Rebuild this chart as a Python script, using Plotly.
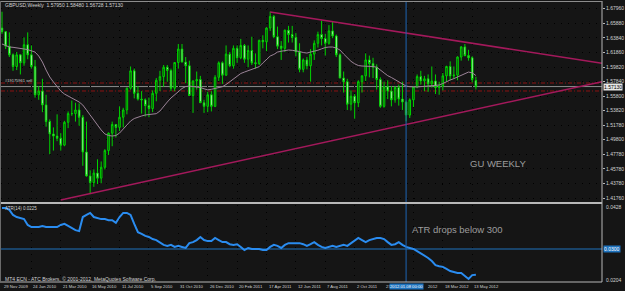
import pandas as pd
import plotly.graph_objects as go

# ---------------- data ----------------
weeks = pd.date_range("2009-11-29", periods=130, freq="7D")

opens = [1.6520, 1.6470, 1.6270, 1.6150, 1.5990, 1.6150, 1.6040, 1.6290, 1.6150, 1.5990,
         1.5600, 1.5650, 1.5460, 1.5230, 1.5060, 1.5030, 1.5000, 1.4905, 1.5220, 1.5340,
         1.5340, 1.5390, 1.5290, 1.4810, 1.4480, 1.4390, 1.4520, 1.4450, 1.4600, 1.4830,
         1.5070, 1.5190, 1.5150, 1.5290, 1.5390, 1.5690, 1.5930, 1.5620, 1.5540, 1.5530,
         1.5450, 1.5410, 1.5620, 1.5800, 1.5850, 1.5980, 1.5935, 1.5690, 1.6045, 1.6230,
         1.6050, 1.6000, 1.5590, 1.5790, 1.5810, 1.5490, 1.5440, 1.5600, 1.5440, 1.5840,
         1.6040, 1.5870, 1.6160, 1.6000, 1.6240, 1.6110, 1.6280, 1.6090, 1.6210, 1.6040,
         1.6030, 1.6350, 1.6330, 1.6520, 1.6680, 1.6400, 1.6270, 1.6240, 1.6490, 1.6430,
         1.6390, 1.6190, 1.5950, 1.6080, 1.6000, 1.6160, 1.6310, 1.6430, 1.6375, 1.6310,
         1.6480, 1.6410, 1.6150, 1.5830, 1.5780, 1.5470, 1.5580, 1.5490, 1.5780, 1.5860,
         1.6080, 1.6030, 1.5980, 1.5810, 1.5440, 1.5710, 1.5650, 1.5530, 1.5700, 1.5540,
         1.5500, 1.5320, 1.5530, 1.5710, 1.5850, 1.5790, 1.5820, 1.5750, 1.5790, 1.5700,
         1.5720, 1.5860, 1.5990, 1.5860, 1.5870, 1.6120, 1.6260, 1.6140, 1.6110, 1.5795]
highs = [1.6745, 1.6480, 1.6460, 1.6170, 1.6190, 1.6160, 1.6390, 1.6460, 1.6280, 1.6080,
         1.5720, 1.5820, 1.5600, 1.5260, 1.5150, 1.5330, 1.5070, 1.5240, 1.5370, 1.5520,
         1.5490, 1.5480, 1.5320, 1.5230, 1.4560, 1.4570, 1.4710, 1.4680, 1.4850, 1.5080,
         1.5230, 1.5190, 1.5440, 1.5420, 1.5700, 1.5990, 1.5960, 1.5720, 1.5650, 1.5550,
         1.5560, 1.5660, 1.5830, 1.5930, 1.6010, 1.6010, 1.5960, 1.6050, 1.6300, 1.6300,
         1.6120, 1.6070, 1.5800, 1.5920, 1.5860, 1.5530, 1.5640, 1.5650, 1.5870, 1.6060,
         1.6060, 1.6280, 1.6190, 1.6280, 1.6280, 1.6370, 1.6300, 1.6280, 1.6400, 1.6170,
         1.6360, 1.6420, 1.6530, 1.6747, 1.6700, 1.6540, 1.6340, 1.6500, 1.6550, 1.6550,
         1.6450, 1.6310, 1.6100, 1.6120, 1.6230, 1.6350, 1.6470, 1.6620, 1.6440, 1.6560,
         1.6610, 1.6430, 1.6170, 1.5920, 1.5820, 1.5660, 1.5610, 1.5800, 1.5870, 1.6170,
         1.6140, 1.6110, 1.6020, 1.5840, 1.5780, 1.5800, 1.5720, 1.5720, 1.5740, 1.5780,
         1.5520, 1.5550, 1.5720, 1.5880, 1.5930, 1.5860, 1.5880, 1.5990, 1.5880, 1.5780,
         1.5900, 1.6000, 1.6060, 1.5990, 1.6130, 1.6270, 1.6300, 1.6220, 1.6130, 1.5848]
lows = [1.6440, 1.6230, 1.6120, 1.5930, 1.5940, 1.5880, 1.6000, 1.6090, 1.5960, 1.5560,
        1.5530, 1.5360, 1.5160, 1.4780, 1.4830, 1.4960, 1.4830, 1.4890, 1.5140, 1.5310,
        1.5230, 1.5170, 1.4620, 1.4470, 1.4230, 1.4330, 1.4370, 1.4380, 1.4570, 1.4770,
        1.4890, 1.5010, 1.5100, 1.5150, 1.5330, 1.5670, 1.5550, 1.5520, 1.5340, 1.5300,
        1.5290, 1.5360, 1.5510, 1.5650, 1.5710, 1.5780, 1.5650, 1.5650, 1.5960, 1.6050,
        1.5760, 1.5590, 1.5350, 1.5670, 1.5500, 1.5350, 1.5360, 1.5370, 1.5430, 1.5790,
        1.5750, 1.5860, 1.5980, 1.5960, 1.6040, 1.6090, 1.6040, 1.5980, 1.6010, 1.5960,
        1.6010, 1.6240, 1.6200, 1.6480, 1.6380, 1.6230, 1.6080, 1.6190, 1.6320, 1.6320,
        1.6130, 1.5910, 1.5910, 1.5950, 1.5780, 1.6080, 1.6250, 1.6280, 1.6140, 1.6290,
        1.6380, 1.6120, 1.5830, 1.5630, 1.5390, 1.5380, 1.5270, 1.5430, 1.5630, 1.5790,
        1.5840, 1.5830, 1.5670, 1.5420, 1.5420, 1.5540, 1.5440, 1.5490, 1.5450, 1.5390,
        1.5233, 1.5280, 1.5430, 1.5690, 1.5740, 1.5650, 1.5640, 1.5700, 1.5610, 1.5600,
        1.5660, 1.5780, 1.5800, 1.5820, 1.5800, 1.6070, 1.6130, 1.6070, 1.5770, 1.56728]
closes = [1.6470, 1.6270, 1.6150, 1.5990, 1.6150, 1.6040, 1.6290, 1.6150, 1.5990, 1.5600,
          1.5650, 1.5460, 1.5230, 1.5060, 1.5030, 1.5000, 1.4905, 1.5220, 1.5340, 1.5340,
          1.5390, 1.5290, 1.4810, 1.4480, 1.4390, 1.4520, 1.4450, 1.4600, 1.4830, 1.5070,
          1.5190, 1.5150, 1.5290, 1.5390, 1.5690, 1.5930, 1.5620, 1.5540, 1.5530, 1.5450,
          1.5410, 1.5620, 1.5800, 1.5850, 1.5980, 1.5935, 1.5690, 1.6045, 1.6230, 1.6050,
          1.6000, 1.5590, 1.5790, 1.5810, 1.5490, 1.5440, 1.5600, 1.5440, 1.5840, 1.6040,
          1.5870, 1.6160, 1.6000, 1.6240, 1.6110, 1.6280, 1.6090, 1.6210, 1.6040, 1.6030,
          1.6350, 1.6330, 1.6520, 1.6680, 1.6400, 1.6270, 1.6240, 1.6490, 1.6430, 1.6390,
          1.6190, 1.5950, 1.6080, 1.6000, 1.6160, 1.6310, 1.6430, 1.6375, 1.6310, 1.6480,
          1.6410, 1.6150, 1.5830, 1.5780, 1.5470, 1.5580, 1.5490, 1.5780, 1.5860, 1.6080,
          1.6030, 1.5980, 1.5810, 1.5440, 1.5710, 1.5650, 1.5530, 1.5700, 1.5540, 1.5500,
          1.5320, 1.5530, 1.5710, 1.5850, 1.5790, 1.5820, 1.5750, 1.5790, 1.5700, 1.5720,
          1.5860, 1.5990, 1.5860, 1.5870, 1.6120, 1.6260, 1.6140, 1.6110, 1.5810, 1.5713]

ma_values = [1.6300, 1.6279, 1.6258, 1.6254, 1.6249, 1.6244, 1.6231, 1.6222, 1.6210, 1.6189,
             1.6134, 1.6051, 1.5941, 1.5845, 1.5776, 1.5707, 1.5651, 1.5610, 1.5583, 1.5555,
             1.5527, 1.5500, 1.5458, 1.5389, 1.5321, 1.5252, 1.5169, 1.5114, 1.5059, 1.5038,
             1.5031, 1.5038, 1.5072, 1.5127, 1.5183, 1.5238, 1.5272, 1.5293, 1.5307, 1.5321,
             1.5325, 1.5330, 1.5339, 1.5376, 1.5445, 1.5500, 1.5555, 1.5603, 1.5651, 1.5686,
             1.5713, 1.5720, 1.5713, 1.5707, 1.5700, 1.5682, 1.5668, 1.5675, 1.5685, 1.5693,
             1.5711, 1.5741, 1.5781, 1.5818, 1.5856, 1.5893, 1.5913, 1.5933, 1.5952, 1.5971,
             1.5987, 1.6038, 1.6084, 1.6134, 1.6156, 1.6189, 1.6200, 1.6210, 1.6217, 1.6213,
             1.6207, 1.6196, 1.6182, 1.6175, 1.6189, 1.6197, 1.6214, 1.6233, 1.6251, 1.6258,
             1.6258, 1.6244, 1.6217, 1.6162, 1.6113, 1.6061, 1.6027, 1.6003, 1.5996, 1.5996,
             1.5996, 1.5989, 1.5980, 1.5938, 1.5896, 1.5863, 1.5838, 1.5810, 1.5781, 1.5751,
             1.5720, 1.5711, 1.5707, 1.5707, 1.5712, 1.5718, 1.5723, 1.5726, 1.5730, 1.5734,
             1.5755, 1.5782, 1.5803, 1.5822, 1.5847, 1.5872, 1.5893, 1.5913, 1.5902, 1.5865]

atr_values = [0.0419, 0.0419, 0.0414, 0.0399, 0.0393, 0.0390, 0.0387, 0.0370, 0.0364, 0.0364,
              0.0364, 0.0367, 0.0364, 0.0364, 0.0364, 0.0364, 0.0370, 0.0373, 0.0367, 0.0361,
              0.0355, 0.0352, 0.0393, 0.0399, 0.0405, 0.0393, 0.0390, 0.0387, 0.0387, 0.0384,
              0.0384, 0.0376, 0.0393, 0.0405, 0.0405, 0.0399, 0.0373, 0.0349, 0.0344, 0.0338,
              0.0335, 0.0329, 0.0326, 0.0320, 0.0312, 0.0309, 0.0312, 0.0306, 0.0309, 0.0306,
              0.0303, 0.0317, 0.0320, 0.0326, 0.0335, 0.0326, 0.0323, 0.0323, 0.0332, 0.0326,
              0.0320, 0.0320, 0.0314, 0.0312, 0.0314, 0.0306, 0.0297, 0.0303, 0.0300, 0.0300,
              0.0300, 0.0297, 0.0297, 0.0306, 0.0312, 0.0309, 0.0303, 0.0312, 0.0317, 0.0317,
              0.0317, 0.0317, 0.0314, 0.0309, 0.0314, 0.0320, 0.0312, 0.0306, 0.0303, 0.0306,
              0.0309, 0.0306, 0.0309, 0.0312, 0.0309, 0.0317, 0.0323, 0.0332, 0.0326, 0.0320,
              0.0326, 0.0329, 0.0332, 0.0332, 0.0329, 0.0320, 0.0312, 0.0314, 0.0320, 0.0312,
              0.0306, 0.0303, 0.0300, 0.0294, 0.0288, 0.0282, 0.0274, 0.0265, 0.0253, 0.0250,
              0.0248, 0.0242, 0.0236, 0.0233, 0.0230, 0.0230, 0.0221, 0.0213, 0.0224, 0.0225]

# trend lines (date, price)
upper_tl_dates = ["2011-04-24", "2013-01-15"]
upper_tl_prices = [1.6741, 1.6033]
lower_tl_dates = ["2010-03-21", "2013-01-15"]
lower_tl_prices = [1.4150, 1.5780]

order_levels = [1.5762, 1.5652]
bid_price = 1.5713
atr_level = 0.0300
vline_date = "2012-01-08"

price_tickvals = [1.6796, 1.6588, 1.6384, 1.6186, 1.5982, 1.5784, 1.5580,
                  1.5382, 1.5178, 1.4980, 1.4778, 1.4578, 1.4378, 1.4176]
# bottom time-scale labels; two of them are half hidden by the highlighted cursor date
date_labels = ["29 Nov 2009", "24 Jan 2010", "21 Mar 2010", "16 May 2010", "11 Jul 2010",
               "5 Sep 2010", "31 Oct 2010", "26 Dec 2010", "20 Feb 2011", "17 Apr 2011",
               "12 Jun 2011", "7 Aug 2011", "2 Oct 2011", "27", None,
               "18 Mar 2012", "13 May 2012"]
date_tick_pos = list(weeks[::8])
hidden_tail_label = "2012"

# ---------------- layout helpers ----------------
W, H = 625, 291
ML, MR, MT, MB = 1, 17, 2, 9
PW, PH = W - ML - MR, H - MT - MB


def px(x):
    return (x - ML) / PW


def py(y):
    return (H - MB - y) / PH


BG = "#151515"
FONT = "Liberation Sans"
TXT = "#d2d2d2"

x_start = weeks[0] - pd.Timedelta(days=1.9)
x_end = weeks[0] + pd.Timedelta(days=1143.3)

fig = go.Figure()

fig.add_trace(go.Candlestick(
    x=weeks, open=opens, high=highs, low=lows, close=closes,
    increasing=dict(line=dict(color="#00d200", width=1), fillcolor="#0a380a"),
    decreasing=dict(line=dict(color="#00d200", width=1), fillcolor="#f0fff0"),
    whiskerwidth=0, xaxis="x", yaxis="y", hoverinfo="skip", showlegend=False))

fig.add_trace(go.Scatter(x=weeks, y=ma_values, mode="lines",
                         line=dict(color="#9c8498", width=1),
                         xaxis="x", yaxis="y", hoverinfo="skip", showlegend=False))

fig.add_trace(go.Scatter(x=upper_tl_dates, y=upper_tl_prices, mode="lines",
                         line=dict(color="#a3195b", width=1.5),
                         xaxis="x", yaxis="y", hoverinfo="skip", showlegend=False))
fig.add_trace(go.Scatter(x=lower_tl_dates, y=lower_tl_prices, mode="lines",
                         line=dict(color="#a3195b", width=1.5),
                         xaxis="x", yaxis="y", hoverinfo="skip", showlegend=False))

fig.add_trace(go.Scatter(x=weeks, y=atr_values, mode="lines",
                         line=dict(color="#2a8cf0", width=2),
                         xaxis="x2", yaxis="y2", hoverinfo="skip", showlegend=False))

shapes = []
for lvl in order_levels:
    shapes.append(dict(type="line", xref="paper", yref="y", x0=0, x1=1, y0=lvl, y1=lvl,
                       line=dict(color="#8c1212", width=1, dash="4px,2px,1px,2px"), layer="below"))
shapes.append(dict(type="line", xref="paper", yref="y", x0=0, x1=1, y0=bid_price, y1=bid_price,
                   line=dict(color="#8a8a8a", width=1), layer="below"))
shapes.append(dict(type="line", xref="paper", yref="y2", x0=0, x1=1, y0=atr_level, y1=atr_level,
                   line=dict(color="#1e73be", width=1), layer="below"))
shapes.append(dict(type="line", xref="x", yref="paper", x0=vline_date, x1=vline_date, y0=0, y1=1,
                   line=dict(color="#1e64b4", width=1), layer="above"))
# frame
frame_col = "#b8b8b8"
shapes.append(dict(type="line", xref="paper", yref="paper", x0=px(0), x1=px(608),
                   y0=py(203), y1=py(203), line=dict(color=frame_col, width=2)))
shapes.append(dict(type="line", xref="paper", yref="paper", x0=1, x1=1,
                   y0=py(282), y1=py(1), line=dict(color=frame_col, width=1)))
shapes.append(dict(type="line", xref="paper", yref="paper", x0=px(0), x1=1,
                   y0=py(1.5), y1=py(1.5), line=dict(color="#8c8c8c", width=1)))
shapes.append(dict(type="line", xref="paper", yref="paper", x0=px(0), x1=1,
                   y0=py(282), y1=py(282), line=dict(color=frame_col, width=1)))
shapes.append(dict(type="line", xref="paper", yref="paper", x0=px(0.5), x1=px(0.5),
                   y0=py(282), y1=py(1), line=dict(color="#6a6a6a", width=1)))

ann = []
ann.append(dict(text="GBPUSD,Weekly  1.57950 1.58480 1.56728 1.57130", xref="paper", yref="paper",
                x=px(3), y=py(5), xanchor="left", yanchor="middle", showarrow=False,
                font=dict(family=FONT, size=5, color=TXT)))
ann.append(dict(text="#19175961 sell", xref="paper", yref="paper",
                x=px(3), y=py(80.5), xanchor="left", yanchor="middle", showarrow=False,
                font=dict(family=FONT, size=4, color=TXT)))
ann.append(dict(text="GU WEEKLY", xref="paper", yref="paper",
                x=px(473), y=py(163), xanchor="left", yanchor="middle", showarrow=False,
                font=dict(family=FONT, size=9.5, color="#9c9c9c")))
ann.append(dict(text="ATR drops below 300", xref="paper", yref="paper",
                x=px(414), y=py(229), xanchor="left", yanchor="middle", showarrow=False,
                font=dict(family=FONT, size=9.5, color="#9c9c9c")))
ann.append(dict(text="ATR(14) 0.0225", xref="paper", yref="paper",
                x=px(3), y=py(208.5), xanchor="left", yanchor="middle", showarrow=False,
                font=dict(family=FONT, size=4.5, color=TXT)))
ann.append(dict(text="MT4 ECN - ATC Brokers, © 2001-2012, MetaQuotes Software Corp.", xref="paper",
                yref="paper", x=px(3), y=py(278.5), xanchor="left", yanchor="middle", showarrow=False,
                font=dict(family=FONT, size=5, color=TXT)))
for pos, lab in zip(date_tick_pos, date_labels):
    if lab is None:
        continue
    ann.append(dict(text=lab, xref="x2", yref="paper", x=pos, y=py(286.5), xanchor="left",
                    yanchor="middle", showarrow=False, font=dict(family=FONT, size=4.2, color=TXT)))
ann.append(dict(text=hidden_tail_label, xref="paper", yref="paper", x=px(430), y=py(286.5),
                xanchor="left", yanchor="middle", showarrow=False,
                font=dict(family=FONT, size=4.2, color=TXT)))
ann.append(dict(text="2012.01.08 00:00", xref="x2", yref="paper", x=vline_date, y=py(286.5),
                xanchor="center", yanchor="middle", showarrow=False, bgcolor="#1e73be",
                borderpad=0, font=dict(family=FONT, size=4.2, color="#ffffff")))
ann.append(dict(text="%.5f" % bid_price, xref="paper", yref="y", x=px(609), y=bid_price,
                xanchor="left", yanchor="middle", showarrow=False, bgcolor="#e6e6e6",
                borderpad=0, font=dict(family=FONT, size=5, color="#000000")))
ann.append(dict(text="0.0428", xref="paper", yref="paper", x=px(610), y=py(207),
                xanchor="left", yanchor="middle", showarrow=False,
                font=dict(family=FONT, size=5, color=TXT)))
ann.append(dict(text="0.0204", xref="paper", yref="paper", x=px(610), y=py(279.5),
                xanchor="left", yanchor="middle", showarrow=False,
                font=dict(family=FONT, size=5, color=TXT)))
ann.append(dict(text="%.4f" % atr_level, xref="paper", yref="y2", x=px(609), y=atr_level,
                xanchor="left", yanchor="middle", showarrow=False, bgcolor="#1e73be",
                borderpad=0, font=dict(family=FONT, size=5, color="#ffffff")))

grid = dict(gridcolor="#000000", griddash="1px,6px", gridwidth=1)

fig.update_layout(
    width=W, height=H, margin=dict(l=ML, r=MR, t=MT, b=MB),
    paper_bgcolor=BG, plot_bgcolor=BG, showlegend=False, boxgap=0.4,
    xaxis=dict(type="date", domain=[0, 1], anchor="y", range=[x_start, x_end],
               rangeslider=dict(visible=False), showticklabels=False, ticks="",
               tickvals=date_tick_pos, showgrid=True, zeroline=False, showline=False, **grid),
    yaxis=dict(domain=[py(202), 1], anchor="x", side="right", range=[1.4121, 1.6879],
               tickvals=price_tickvals, ticktext=["%.5f" % v for v in price_tickvals],
               ticks="outside", ticklen=2, tickcolor=frame_col,
               tickfont=dict(family=FONT, size=5, color=TXT), showgrid=True,
               zeroline=False, showline=False, **grid),
    xaxis2=dict(type="date", domain=[0, 1], anchor="y2", matches="x", range=[x_start, x_end],
                showticklabels=False, ticks="", tickvals=date_tick_pos, showgrid=True,
                zeroline=False, showline=False, **grid),
    yaxis2=dict(domain=[0, py(205)], anchor="x2", side="right", range=[0.0204, 0.0428],
                showticklabels=False, ticks="", showgrid=False, zeroline=False, showline=False),
    shapes=shapes, annotations=ann,
)

fig.write_html("out.html")
